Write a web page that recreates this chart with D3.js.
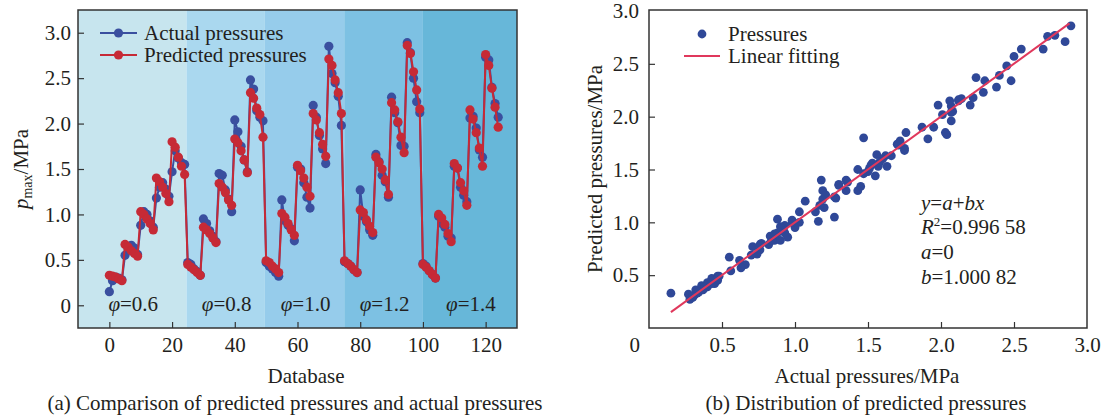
<!DOCTYPE html>
<html>
<head>
<meta charset="utf-8">
<script src="https://cdn.jsdelivr.net/npm/d3@7"></script>
<style>
  body { margin: 0; background: #fff; }
  svg text { font-family: "Liberation Serif", "Times New Roman", serif; fill: #231f20; }
</style>
</head>
<body>
<svg id="chart" width="1104" height="416"></svg>
<script>
// Actual and predicted p_max (MPa), 125 samples, 25 per φ group
const actual = [
  0.15, 0.27, 0.31, 0.30, 0.28, 0.55, 0.62, 0.66, 0.63, 0.56,
  0.88, 1.03, 1.00, 0.93, 0.86, 1.18, 1.30, 1.35, 1.28, 1.20,
  1.47, 1.70, 1.62, 1.57, 1.55,
  0.47, 0.45, 0.40, 0.37, 0.33, 0.95, 0.90, 0.82, 0.76, 0.70,
  1.45, 1.43, 1.27, 1.17, 1.03, 2.04, 1.91, 1.75, 1.60, 1.47,
  2.48, 2.38, 2.14, 2.07, 2.03,
  0.47, 0.43, 0.40, 0.36, 0.32, 1.16, 0.93, 0.88, 0.84, 0.71,
  1.52, 1.50, 1.35, 1.19, 1.07, 2.20, 2.07, 1.87, 1.72, 1.56,
  2.85, 2.55, 2.45, 2.30, 1.98,
  0.48, 0.46, 0.43, 0.39, 0.36, 1.27, 0.98, 0.92, 0.83, 0.77,
  1.66, 1.58, 1.43, 1.36, 1.19, 2.29, 2.12, 2.01, 1.76, 1.75,
  2.89, 2.78, 2.50, 2.24, 2.12,
  0.46, 0.43, 0.38, 0.34, 0.30, 0.98, 0.90, 0.86, 0.76, 0.74,
  1.53, 1.51, 1.30, 1.21, 1.14, 2.06, 2.08, 1.95, 1.71, 1.63,
  2.73, 2.70, 2.40, 2.22, 2.07
];
const predicted = [
  0.33, 0.32, 0.31, 0.29, 0.27, 0.67, 0.64, 0.60, 0.57, 0.54,
  1.03, 1.00, 0.95, 0.90, 0.83, 1.40, 1.36, 1.30, 1.23, 1.14,
  1.80, 1.74, 1.63, 1.53, 1.44,
  0.45, 0.42, 0.39, 0.36, 0.33, 0.86, 0.83, 0.79, 0.74, 0.69,
  1.34, 1.30, 1.24, 1.16, 1.10, 1.83, 1.79, 1.70, 1.60, 1.46,
  2.34, 2.28, 2.17, 2.10, 1.85,
  0.49, 0.47, 0.43, 0.40, 0.36, 1.01, 0.97, 0.90, 0.83, 0.77,
  1.54, 1.48, 1.40, 1.30, 1.20, 2.11, 2.04, 1.90, 1.77, 1.64,
  2.71, 2.64, 2.48, 2.34, 2.11,
  0.49, 0.46, 0.43, 0.39, 0.36, 1.05, 1.02, 0.94, 0.87, 0.80,
  1.63, 1.57, 1.50, 1.38, 1.22, 2.23, 2.15, 2.02, 1.85, 1.68,
  2.86, 2.77, 2.57, 2.37, 2.16,
  0.45, 0.42, 0.38, 0.34, 0.30, 1.00, 0.96, 0.89, 0.79, 0.70,
  1.56, 1.51, 1.35, 1.26, 1.10, 2.15, 2.05, 1.90, 1.73, 1.53,
  2.76, 2.64, 2.39, 2.18, 1.96
];

// φ groups shown as background bands
const bandEdges = [-10, 24.6, 49.6, 74.9, 100, 130];
const bandLabels = ["0.6", "0.8", "1.0", "1.2", "1.4"];
const bandColors = ["#c7e5ee", "#aad8ef", "#96cceb", "#7dc1e3", "#67b7d9"];

const leftXTicks = [0, 20, 40, 60, 80, 100, 120];
const leftYTicks = [0, 0.5, 1.0, 1.5, 2.0, 2.5, 3.0];
const rightXTicks = [0.5, 1.0, 1.5, 2.0, 2.5, 3.0];
const rightYTicks = [0.5, 1.0, 1.5, 2.0, 2.5, 3.0];

// linear fit y = a + b x
const fitA = 0;
const fitB = 1.00082;
const fitRange = [0.15, 2.88];

const blue = "#3a4f9f";
const red = "#c62a36";
const fs = 21;

const svg = d3.select("#chart");

// ---------- (a) left chart ----------
const xL = d3.scaleLinear().domain([-10, 130]).range([78, 517]);
const yL = d3.scaleLinear().domain([-0.25, 3.25]).range([328, 10]);

const left = svg.append("g");

left.selectAll("rect.band")
    .data(bandLabels)
    .enter()
    .append("rect")
    .attr("class", "band")
    .attr("x", (d, i) => xL(bandEdges[i]))
    .attr("y", yL(3.25))
    .attr("width", (d, i) => xL(bandEdges[i + 1]) - xL(bandEdges[i]))
    .attr("height", yL(-0.25) - yL(3.25))
    .attr("fill", (d, i) => bandColors[i]);

left.selectAll("text.phi")
    .data(bandLabels)
    .enter()
    .append("text")
    .attr("class", "phi")
    .attr("x", (d, i) => xL((bandEdges[i] + bandEdges[i + 1]) / 2) + 1)
    .attr("y", 311)
    .attr("text-anchor", "middle")
    .style("font-size", fs + "px")
    .each(function (d) {
        const t = d3.select(this);
        t.append("tspan").style("font-style", "italic").text("φ");
        t.append("tspan").text("=" + d);
    });

const axL = left.append("g").attr("transform", `translate(0,${yL(-0.25)})`)
    .call(d3.axisBottom(xL).tickValues(leftXTicks).tickSizeInner(-6).tickSizeOuter(0).tickPadding(9));
const ayL = left.append("g").attr("transform", `translate(${xL(-10)},0)`)
    .call(d3.axisLeft(yL).tickValues(leftYTicks).tickSizeInner(-6).tickSizeOuter(0).tickPadding(7)
        .tickFormat(d => d === 0 ? "0" : d3.format(".1f")(d)));
[axL, ayL].forEach(a => {
    a.select(".domain").remove();
    a.selectAll(".tick line").attr("stroke", "#333").attr("stroke-width", 1.2);
    a.selectAll("text").style("font-size", fs + "px").attr("fill", "#231f20")
        .style("font-family", "'Liberation Serif', serif");
});

const lineL = d3.line().x((d, i) => xL(i)).y(d => yL(d));

[[actual, blue], [predicted, red]].forEach(([series, col]) => {
    left.append("path")
        .datum(series)
        .attr("d", lineL)
        .attr("fill", "none")
        .attr("stroke", col)
        .attr("stroke-width", 2);
    left.append("g").selectAll("circle")
        .data(series)
        .enter()
        .append("circle")
        .attr("cx", (d, i) => xL(i))
        .attr("cy", d => yL(d))
        .attr("r", 4.6)
        .attr("fill", col);
});

left.append("rect")
    .attr("x", xL(-10)).attr("y", yL(3.25))
    .attr("width", xL(130) - xL(-10)).attr("height", yL(-0.25) - yL(3.25))
    .attr("fill", "none").attr("stroke", "#333").attr("stroke-width", 1.5);

// legend
const legL = left.append("g");
[["Actual pressures", blue, 33], ["Predicted pressures", red, 55]].forEach(([name, col, y]) => {
    legL.append("line").attr("x1", 100).attr("x2", 137).attr("y1", y).attr("y2", y)
        .attr("stroke", col).attr("stroke-width", 2);
    legL.append("circle").attr("cx", 118.5).attr("cy", y).attr("r", 4.6).attr("fill", col);
    legL.append("text").attr("x", 144).attr("y", y + 7).style("font-size", fs + "px").text(name);
});

// axis titles
const yTitleL = left.append("text")
    .attr("transform", "translate(28,169) rotate(-90)")
    .attr("text-anchor", "middle")
    .style("font-size", fs + "px");
yTitleL.append("tspan").style("font-style", "italic").text("p");
yTitleL.append("tspan").attr("dy", 4).style("font-size", "14px").text("max");
yTitleL.append("tspan").attr("dy", -4).text("/MPa");

left.append("text").attr("x", 306).attr("y", 383).attr("text-anchor", "middle")
    .style("font-size", fs + "px").text("Database");
left.append("text").attr("x", 295).attr("y", 410).attr("text-anchor", "middle")
    .style("font-size", fs + "px").text("(a) Comparison of predicted pressures and actual pressures");

// ---------- (b) right chart ----------
const xR = d3.scaleLinear().domain([0, 3]).range([649, 1087]);
const yR = d3.scaleLinear().domain([0, 3]).range([328, 11]);

const right = svg.append("g");

const axR = right.append("g").attr("transform", `translate(0,${yR(0)})`)
    .call(d3.axisBottom(xR).tickValues(rightXTicks).tickSizeInner(-6).tickSizeOuter(0).tickPadding(9)
        .tickFormat(d3.format(".1f")));
const ayR = right.append("g").attr("transform", `translate(${xR(0)},0)`)
    .call(d3.axisLeft(yR).tickValues(rightYTicks).tickSizeInner(-6).tickSizeOuter(0).tickPadding(10)
        .tickFormat(d3.format(".1f")));
[axR, ayR].forEach(a => {
    a.select(".domain").remove();
    a.selectAll(".tick line").attr("stroke", "#333").attr("stroke-width", 1.2)
        .filter(d => d === 3).remove();
    a.selectAll("text").style("font-size", fs + "px").attr("fill", "#231f20")
        .style("font-family", "'Liberation Serif', serif");
});
right.append("text").attr("x", xR(0) - 9).attr("y", yR(0) + 24)
    .attr("text-anchor", "end").style("font-size", fs + "px").text("0");

right.append("g").selectAll("circle")
    .data(actual)
    .enter()
    .append("circle")
    .attr("cx", d => xR(d))
    .attr("cy", (d, i) => yR(predicted[i]))
    .attr("r", 4.4)
    .attr("fill", "#2f4898");

right.append("line")
    .attr("x1", xR(fitRange[0])).attr("y1", yR(fitA + fitB * fitRange[0]))
    .attr("x2", xR(fitRange[1])).attr("y2", yR(fitA + fitB * fitRange[1]))
    .attr("stroke", "#e0385c").attr("stroke-width", 2);

right.append("rect")
    .attr("x", xR(0)).attr("y", yR(3) - 1)
    .attr("width", xR(3) - xR(0)).attr("height", yR(0) - yR(3) + 1)
    .attr("fill", "none").attr("stroke", "#333").attr("stroke-width", 1.5);

// legend
right.append("circle").attr("cx", 702).attr("cy", 34).attr("r", 4.4).attr("fill", "#2f4898");
right.append("text").attr("x", 728).attr("y", 41).style("font-size", fs + "px").text("Pressures");
right.append("line").attr("x1", 684).attr("x2", 720).attr("y1", 56).attr("y2", 56)
    .attr("stroke", "#e0385c").attr("stroke-width", 2);
right.append("text").attr("x", 728).attr("y", 63).style("font-size", fs + "px").text("Linear fitting");

// fit annotation
const ann = right.append("g").style("font-size", fs + "px");
const eq1 = ann.append("text").attr("x", 921).attr("y", 210);
eq1.append("tspan").style("font-style", "italic").text("y");
eq1.append("tspan").text("=");
eq1.append("tspan").style("font-style", "italic").text("a");
eq1.append("tspan").text("+");
eq1.append("tspan").style("font-style", "italic").text("bx");
const eq2 = ann.append("text").attr("x", 921).attr("y", 234);
eq2.append("tspan").style("font-style", "italic").text("R");
eq2.append("tspan").attr("dy", -8).style("font-size", "13px").text("2");
eq2.append("tspan").attr("dy", 8).text("=0.996 58");
const eq3 = ann.append("text").attr("x", 921).attr("y", 259);
eq3.append("tspan").style("font-style", "italic").text("a");
eq3.append("tspan").text("=" + fitA);
const eq4 = ann.append("text").attr("x", 921).attr("y", 284);
eq4.append("tspan").style("font-style", "italic").text("b");
eq4.append("tspan").text("=1.000 82");

// axis titles
right.append("text")
    .attr("transform", "translate(602,169) rotate(-90)")
    .attr("text-anchor", "middle")
    .style("font-size", fs + "px").text("Predicted pressures/MPa");
right.append("text").attr("x", 867).attr("y", 383).attr("text-anchor", "middle")
    .style("font-size", fs + "px").text("Actual pressures/MPa");
right.append("text").attr("x", 866).attr("y", 410).attr("text-anchor", "middle")
    .style("font-size", fs + "px").text("(b) Distribution of predicted pressures");
</script>
</body>
</html>
